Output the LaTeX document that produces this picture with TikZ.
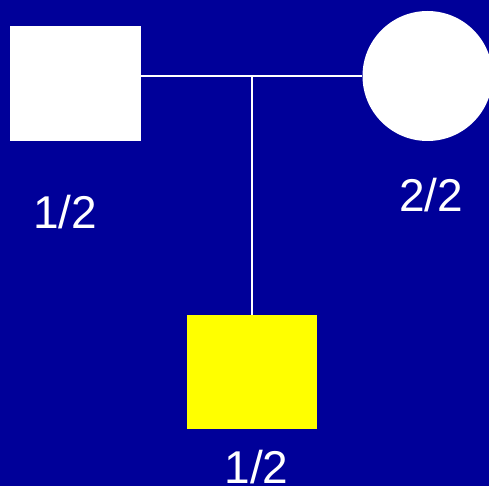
\documentclass[tikz,border=0pt]{standalone}
\usepackage{fontspec}
\setmainfont{Liberation Sans}
\definecolor{pedblue}{RGB}{0,0,153}
\definecolor{pedyellow}{RGB}{255,255,0}
\begin{document}
\begin{tikzpicture}[x=1pt, y=-1pt, line join=round,
		male/.style={draw=none, fill=white, minimum width=131pt, minimum height=115pt, inner sep=0pt},
		female/.style={circle, draw=none, fill=white, minimum size=130pt, inner sep=0pt},
		genotype/.style={text=white, inner sep=0pt, font=\fontsize{46}{50}\selectfont},
		link/.style={draw=white, line width=2.4pt}]
	% 1. Nền xanh đậm
	\useasboundingbox (0,0) rectangle (489,486);
	\fill[pedblue] (0,0) rectangle (489,486);
	% 2. Bố, mẹ và con
	\node[male] (father) at (75.5,84) {};
	\node[female] (mother) at (427.5,76) {};
	\node[male, fill=pedyellow, minimum width=130pt, minimum height=114pt] (child) at (252,372) {};
	% 3. Đường hôn nhân và nhánh con
	\coordinate (M) at (252,76);
	\draw[link] (father.east |- M) -- (mother.west);
	\draw[link] (M) -- (child.north);
	% 4. Kiểu gen
	\foreach \n/\p/\g in {gf/{(65,212)}/{1/2}, gm/{(431,195)}/{2/2}, gc/{(256.5,467)}/{1/2}} {
		\node[genotype] (\n) at \p {\g};
	}
\end{tikzpicture}
\end{document}
